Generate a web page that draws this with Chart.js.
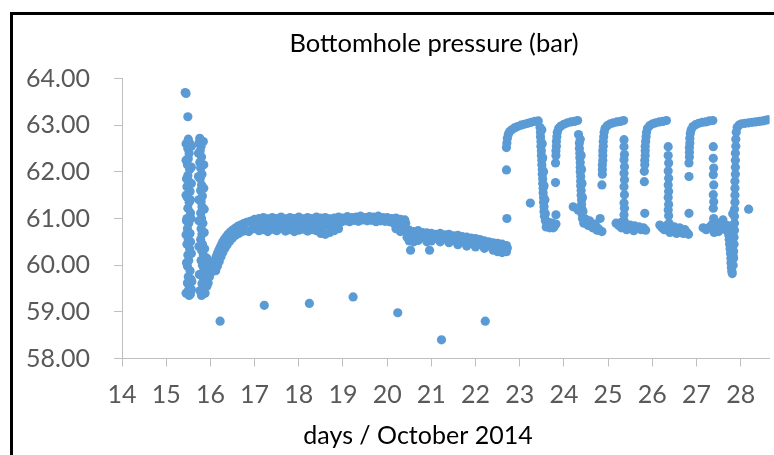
<!DOCTYPE html>
<html><head><meta charset="utf-8">
<script src="https://cdn.jsdelivr.net/npm/chart.js@4.4.1/dist/chart.umd.min.js"></script>
<style>
html,body{margin:0;padding:0;background:#fff;overflow:hidden;}
#wrap{position:relative;width:774px;height:455px;overflow:hidden;}
#frame{position:absolute;left:10px;top:12px;width:800px;height:500px;border-left:3px solid #000;border-top:3px solid #000;pointer-events:none;}
canvas{position:absolute;left:0;top:0;}
</style></head><body>
<div id="wrap"><canvas id="c" width="774" height="455"></canvas><div id="frame"></div></div>
<script>
const chartTitle = 'Bottomhole pressure (bar)';
const xTitle = 'days / October 2014';
const xRange = [14, 28.65];
const yRange = [58, 64];

// [day, bar]
const spike = [
[15.43,63.70],[15.45,63.68],[15.49,63.18],
[15.50,62.70],[15.53,62.62],[15.49,62.50],[15.52,62.40],[15.50,62.28],[15.48,62.15],[15.53,62.05],[15.49,61.92],[15.51,61.80],[15.47,61.68],[15.54,61.58],[15.48,61.45],[15.52,61.35],[15.49,61.22],[15.55,61.12],[15.47,61.00],[15.51,60.90],[15.48,60.78],[15.54,60.68],[15.50,60.55],[15.47,60.45],[15.53,60.35],[15.49,60.22],[15.51,60.10],[15.48,59.98],[15.54,59.88],[15.50,59.75],[15.48,59.62],[15.53,59.55],[15.50,59.45],[15.55,59.38],[15.52,59.35],[15.57,59.48],
[15.46,61.85],[15.55,61.40],[15.46,60.95],[15.55,60.50],[15.46,60.05],[15.56,59.70],
[15.45,62.60],[15.57,62.55],[15.45,62.25],[15.57,62.10],[15.45,61.50],[15.57,61.75],[15.56,61.00],[15.45,60.65],[15.57,60.25],[15.45,59.40],[15.58,59.65],
[15.76,62.72],[15.74,62.62],[15.79,62.55],[15.77,62.45],[15.80,62.32],[15.76,62.20],[15.78,62.08],[15.81,61.95],[15.77,61.85],[15.80,61.72],[15.78,61.60],[15.82,61.48],[15.79,61.36],[15.81,61.25],[15.78,61.12],[15.80,61.00],[15.83,60.90],[15.79,60.78],[15.81,60.66],[15.78,60.55],[15.82,60.45],[15.80,60.32],[15.84,60.22],[15.79,60.10],[15.82,60.00],[15.86,59.92],[15.80,59.82],[15.84,59.72],[15.81,59.60],[15.86,59.52],[15.83,59.42],[15.80,59.35],[15.88,59.40],[15.92,59.55],[15.95,59.62],[15.90,59.70],[15.98,59.75],[15.93,59.85],[16.02,59.85],[16.06,60.00],[15.97,60.02],[15.88,60.05],[15.92,60.15],
[15.73,62.40],[15.84,62.65],[15.73,61.90],[15.85,62.15],[15.74,61.40],[15.85,61.65],[15.74,60.95],[15.86,61.20],[15.74,60.40],[15.86,60.70],[15.75,59.80],[15.87,60.35],[15.76,59.45]
];
const recovery = [
[16.05,59.95],[16.08,60.02],[16.10,60.10],[16.13,60.18],[16.16,60.25],[16.19,60.32],[16.22,60.38],[16.25,60.44],[16.28,60.50],[16.32,60.56],[16.36,60.61],[16.40,60.66],[16.45,60.71],[16.50,60.75],[16.56,60.79],[16.62,60.83],[16.68,60.86],[16.75,60.89],[16.82,60.92],[16.90,60.94],[16.97,60.96],
[16.12,59.88],[16.16,59.98],[16.20,60.08],[16.24,60.18],[16.28,60.27],[16.33,60.36],[16.38,60.44],[16.44,60.52],[16.50,60.58],[16.57,60.64],[16.64,60.68],[16.72,60.72],[16.80,60.74],[16.87,60.72],[16.95,60.78]
];
const plateauTop = [
[17.0,60.98],[17.1,61.00],[17.2,61.02],[17.3,60.99],[17.4,61.02],[17.5,61.00],[17.6,61.03],[17.7,60.99],[17.8,61.02],[17.9,61.00],[18.0,61.03],[18.1,60.99],[18.2,61.02],[18.3,61.00],[18.4,61.03],[18.5,61.01],[18.6,61.02],[18.7,60.99],[18.8,61.01],[18.9,61.03],[19.0,61.01],[19.1,61.04],[19.2,61.02],[19.3,61.03],[19.4,61.05],[19.5,61.02],[19.6,61.04],[19.7,61.03],[19.8,61.05],[19.9,61.02],[20.0,61.02],[20.1,61.00],[20.2,61.01],[20.3,60.98],[20.4,60.97]
];
const plateauMid = [
[17.05,60.88],[17.15,60.85],[17.25,60.90],[17.35,60.86],[17.45,60.89],[17.55,60.84],[17.65,60.90],[17.75,60.86],[17.85,60.88],[17.95,60.84],[18.05,60.89],[18.15,60.86],[18.25,60.90],[18.35,60.85],[18.45,60.88],[18.55,60.84],[18.65,60.87],[18.75,60.85],[18.85,60.90],[18.95,60.92],[19.05,60.95],[19.15,60.93],[19.25,60.96],[19.35,60.94],[19.45,60.97],[19.55,60.95],[19.65,60.96],[19.75,60.93],[19.85,60.95],[19.95,60.94],[20.05,60.93],[20.15,60.90],[20.25,60.88],[20.35,60.86],[20.42,60.90]
];
const plateauLow = [
[17.0,60.78],[17.1,60.74],[17.2,60.76],[17.3,60.72],[17.4,60.77],[17.5,60.74],[17.6,60.78],[17.7,60.73],[17.8,60.76],[17.9,60.72],[18.0,60.75],[18.1,60.77],[18.2,60.73],[18.3,60.76],[18.4,60.74],[18.5,60.68],[18.6,60.66],[18.7,60.70],[18.8,60.74],[18.9,60.78],[20.2,60.78],[20.3,60.72],[20.4,60.75]
];
const declineTop = [
[20.5,60.75],[20.6,60.72],[20.7,60.74],[20.8,60.70],[20.9,60.69],[21.0,60.68],[21.1,60.66],[21.2,60.68],[21.3,60.65],[21.4,60.66],[21.5,60.63],[21.6,60.64],[21.7,60.61],[21.8,60.60],[21.9,60.58],[22.0,60.57],[22.1,60.55],[22.2,60.52],[22.3,60.50],[22.4,60.48],[22.5,60.47],[22.6,60.45],[22.7,60.42]
];
const declineMid = [
[20.45,60.60],[20.55,60.62],[20.65,60.60],[20.75,60.58],[20.85,60.60],[20.95,60.57],[21.05,60.59],[21.15,60.56],[21.25,60.58],[21.35,60.55],[21.45,60.56],[21.55,60.52],[21.65,60.53],[21.75,60.50],[21.85,60.49],[21.95,60.47],[22.05,60.46],[22.15,60.43],[22.25,60.42],[22.35,60.40],[22.45,60.38],[22.55,60.36],[22.65,60.35],[22.72,60.37]
];
const declineLow = [
[20.5,60.52],[20.6,60.50],[20.7,60.53],[20.9,60.50],[21.0,60.52],[21.2,60.50],[21.4,60.48],[21.6,60.44],[21.8,60.41],[22.0,60.39],[22.2,60.36],[22.4,60.32],[22.5,60.29],[22.6,60.27],[22.7,60.29]
];
const cycles = [
[22.70,62.52],[22.71,62.62],[22.72,62.72],[22.74,62.80],[22.77,62.86],[22.82,62.90],[22.88,62.94],[22.95,62.97],[23.03,63.00],[23.10,63.02],[23.18,63.04],[23.26,63.06],[23.34,63.08],[23.42,63.09],
[23.46,62.95],[23.47,62.85],[23.47,62.75],[23.48,62.65],[23.48,62.55],[23.49,62.45],[23.49,62.35],[23.50,62.25],[23.50,62.15],[23.51,62.05],[23.51,61.95],[23.52,61.85],[23.52,61.75],[23.53,61.65],[23.53,61.55],[23.54,61.45],[23.54,61.35],[23.55,61.25],[23.55,61.15],[23.56,61.05],
[23.50,62.90],[23.51,62.60],[23.52,62.30],[23.54,62.00],[23.55,61.70],[23.57,61.40],[23.58,61.10],
[23.58,60.95],[23.62,60.88],[23.66,60.92],[23.70,60.85],[23.74,60.90],[23.78,60.83],[23.82,60.88],[23.60,60.82],[23.68,60.80],[23.76,60.80],
[23.82,61.08],[23.81,61.77],[23.81,62.19],[23.82,62.35],[23.82,62.45],[23.83,62.55],[23.83,62.65],[23.84,62.75],[23.85,62.85],[23.88,62.93],[23.93,62.98],[24.00,63.02],[24.08,63.05],[24.16,63.07],[24.24,63.08],[24.31,63.10],
[24.33,62.80],[24.35,62.62],[24.35,62.50],[24.36,62.40],[24.36,62.30],[24.37,62.20],[24.37,62.10],[24.37,62.00],[24.38,61.90],[24.38,61.80],[24.38,61.70],[24.39,61.60],[24.39,61.50],[24.40,61.40],[24.40,61.30],[24.41,61.20],[24.41,61.10],
[24.37,62.70],[24.39,62.35],[24.40,62.05],[24.41,61.75],[24.42,61.45],[24.43,61.15],
[24.32,61.18],[24.42,61.00],[24.46,60.95],[24.50,60.98],[24.54,60.92],[24.58,60.95],[24.62,60.90],[24.66,60.86],[24.70,60.88],[24.74,60.82],[24.78,60.78],[24.82,60.74],[24.86,60.72],[24.45,60.90],[24.55,60.85],[24.65,60.80],[24.75,60.75],[24.82,61.00],
[24.86,61.72],[24.87,61.95],[24.87,62.05],[24.87,62.15],[24.88,62.25],[24.88,62.35],[24.88,62.45],[24.89,62.55],[24.89,62.65],[24.90,62.75],[24.91,62.85],[24.93,62.93],[24.98,62.99],[25.05,63.03],[25.12,63.05],[25.20,63.07],[25.28,63.08],[25.35,63.10],
[25.36,62.69],[25.36,62.54],[25.37,62.37],[25.36,62.26],[25.37,62.11],[25.36,61.97],[25.37,61.83],[25.36,61.68],[25.37,61.51],[25.36,61.33],[25.37,61.22],[25.36,61.08],
[25.18,60.90],[25.24,60.85],[25.30,60.92],[25.36,60.95],[25.40,60.88],[25.45,60.82],[25.50,60.86],[25.55,60.80],[25.60,60.84],[25.65,60.78],[25.70,60.82],[25.75,60.76],[25.80,60.80],[25.85,60.75],[25.30,60.80],[25.42,60.76],[25.58,60.74],
[25.83,61.11],[25.82,61.79],[25.82,62.01],[25.83,62.15],[25.83,62.25],[25.84,62.35],[25.84,62.45],[25.84,62.55],[25.85,62.65],[25.86,62.75],[25.87,62.85],[25.89,62.93],[25.94,62.99],[26.01,63.03],[26.08,63.05],[26.16,63.07],[26.24,63.08],[26.32,63.10],
[26.36,62.54],[26.36,62.35],[26.37,62.19],[26.36,62.02],[26.37,61.86],[26.36,61.72],[26.37,61.58],[26.36,61.45],[26.37,61.30],[26.36,61.18],[26.37,61.06],
[26.17,60.86],[26.22,60.80],[26.27,60.76],[26.32,60.85],[26.38,60.90],[26.42,60.80],[26.46,60.75],[26.50,60.82],[26.54,60.78],[26.58,60.72],[26.62,60.80],[26.66,60.74],[26.70,60.68],[26.74,60.76],[26.78,60.70],[26.82,60.66],[26.40,60.70],[26.55,60.68],
[26.83,61.11],[26.83,61.90],[26.83,62.19],[26.84,62.32],[26.84,62.42],[26.84,62.52],[26.85,62.62],[26.85,62.72],[26.86,62.82],[26.88,62.90],[26.92,62.97],[26.98,63.01],[27.05,63.04],[27.13,63.06],[27.21,63.07],[27.29,63.09],[27.37,63.10],
[27.38,62.54],[27.38,62.29],[27.39,62.08],[27.38,61.94],[27.39,61.72],[27.38,61.51],[27.39,61.36],[27.38,61.22],[27.39,61.00],
[27.15,60.80],[27.22,60.76],[27.30,60.82],[27.36,60.88],[27.42,60.78],[27.48,60.85],[27.54,60.90],[27.58,60.80],[27.62,60.86],[27.66,60.76],[27.70,60.84],[27.50,60.72],[27.40,60.70],[27.60,60.97],
[27.70,60.85],[27.72,60.75],[27.73,60.65],[27.74,60.55],[27.75,60.45],[27.76,60.35],[27.77,60.25],[27.78,60.15],[27.78,60.05],[27.79,59.95],[27.80,59.87],[27.81,59.82],
[27.83,60.00],[27.84,60.15],[27.84,60.30],[27.85,60.45],[27.85,60.60],[27.86,60.75],[27.86,60.90],[27.86,61.05],[27.86,61.20],[27.87,61.35],[27.87,61.50],[27.87,61.65],[27.87,61.80],[27.88,61.95],[27.88,62.10],[27.88,62.25],[27.88,62.40],[27.89,62.55],[27.89,62.70],[27.90,62.85],[27.92,62.95],[27.96,63.00],[28.02,63.03],[28.10,63.04],[28.18,63.05],[28.26,63.06],[28.34,63.07],[28.42,63.08],[28.50,63.09],[28.58,63.11],[28.64,63.12],
[27.80,60.50],[27.81,60.80],[27.82,61.10],[27.83,60.20],[27.79,60.60]
];
const outliers = [
[16.22,58.80],[17.22,59.14],[18.24,59.18],[19.23,59.32],[20.24,58.98],[21.23,58.40],[22.22,58.80],
[20.53,60.32],[20.96,60.32],[22.71,61.00],[22.70,62.04],[23.24,61.33],[24.21,61.25],[28.18,61.20]
];

const seriesList = [spike, recovery, plateauTop, plateauMid, plateauLow, declineTop, declineMid, declineLow, cycles, outliers];
const dotColor = '#5B9BD5';
const axisColor = '#BFBFBF';
const fontFam = 'Lato, "Open Sans", sans-serif';

const titlesPlugin = {
  id: 'titles',
  afterDraw(chart) {
    const c = chart.ctx, a = chart.chartArea;
    c.save();
    c.fillStyle = '#000';
    c.textAlign = 'center';
    c.textBaseline = 'middle';
    c.font = '25.5px ' + fontFam;
    c.fillText(chartTitle, a.left + 312, 44);
    c.font = '25px ' + fontFam;
    c.fillText(xTitle, a.left + 296, 436);
    c.restore();
  }
};

new Chart(document.getElementById('c'), {
  type: 'scatter',
  data: {
    datasets: seriesList.map(s => ({
      data: s.map(([x, y]) => ({x, y})),
      backgroundColor: dotColor, borderColor: dotColor, borderWidth: 0,
      pointRadius: 4.6, pointHoverRadius: 4.6
    }))
  },
  options: {
    responsive: false, animation: false, devicePixelRatio: 1,
    layout: {padding: {top: 78.5, left: 0, right: 0, bottom: 0}},
    plugins: {legend: {display: false}, tooltip: {enabled: false}, title: {display: false}},
    scales: {
      x: {
        type: 'linear', min: xRange[0], max: xRange[1],
        ticks: {stepSize: 1, includeBounds: false, color: '#595959', font: {family: fontFam, size: 25}, padding: 13.5, maxRotation: 0, autoSkip: false},
        grid: {display: true, drawOnChartArea: false, drawTicks: true, tickLength: 8, color: axisColor},
        border: {display: true, color: axisColor},
        afterFit: s => { s.height = 96.5; }
      },
      y: {
        type: 'linear', min: yRange[0], max: yRange[1],
        ticks: {stepSize: 1, color: '#595959', font: {family: fontFam, size: 25}, padding: 24, callback: v => Number(v).toFixed(2)},
        grid: {display: true, drawOnChartArea: false, drawTicks: true, tickLength: 8, color: axisColor},
        border: {display: true, color: axisColor},
        afterFit: s => { s.width = 122; }
      }
    }
  },
  plugins: [titlesPlugin]
});
</script></body></html>
